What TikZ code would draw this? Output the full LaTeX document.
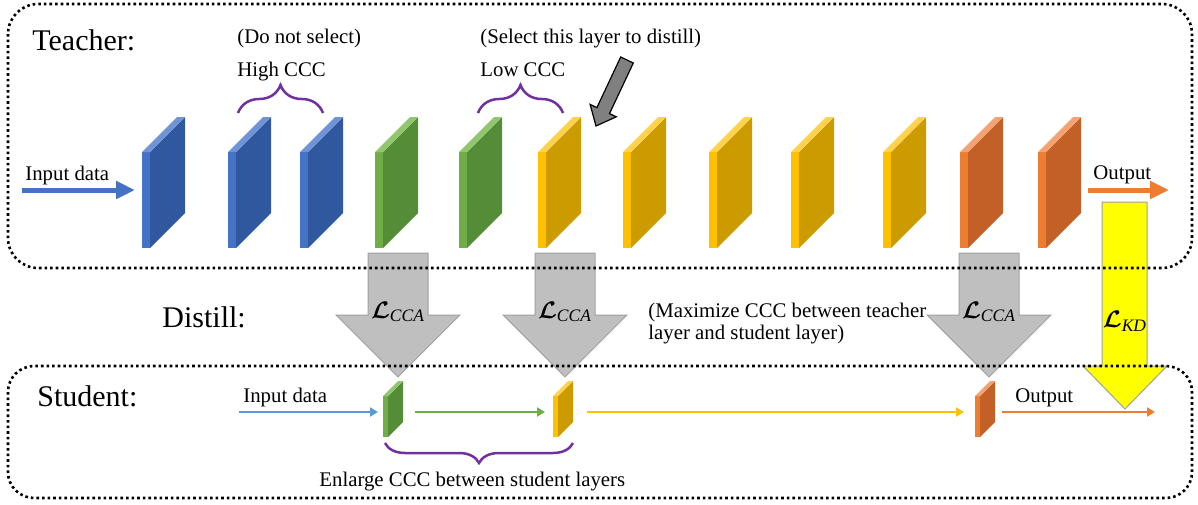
\documentclass[tikz,border=0pt]{standalone}
\usepackage{xcolor}
\usepackage{amsmath}
\usepackage{fontspec}
\setmainfont{Liberation Serif}
\usepackage{tikz}
\usetikzlibrary{arrows.meta,decorations.pathreplacing}

\definecolor{blufront}{HTML}{4472C4}
\definecolor{bluside}{HTML}{30589F}
\definecolor{blutop}{HTML}{6E93D6}
\definecolor{grnfront}{HTML}{70AD47}
\definecolor{grnside}{HTML}{548C38}
\definecolor{grntop}{HTML}{92C66E}
\definecolor{ylwfront}{HTML}{FFC000}
\definecolor{ylwside}{HTML}{CC9B00}
\definecolor{ylwtop}{HTML}{FFD24D}
\definecolor{orgfront}{HTML}{ED7D31}
\definecolor{orgside}{HTML}{C26027}
\definecolor{orgtop}{HTML}{F4A272}
\definecolor{brc}{HTML}{7030A0}
\definecolor{lossgray}{HTML}{BFBFBF}
\definecolor{lossedge}{HTML}{A0A0A0}
\definecolor{kdyellow}{HTML}{FFFF00}
\definecolor{stublue}{HTML}{5B9BD5}

\tikzset{
	tlayer/.style={minimum width=4pt, minimum height=48pt, inner sep=0pt, outer sep=0pt, anchor=south west},
	slayer/.style={minimum width=2.5pt, minimum height=20.5pt, inner sep=0pt, outer sep=0pt, anchor=south west},
	txt/.style={font=\fontsize{10.4}{11}\selectfont, inner sep=0pt, anchor=base west},
	bigtxt/.style={font=\fontsize{15}{18}\selectfont, inner sep=0pt, anchor=base west},
	losslab/.style={font=\fontsize{12.5}{15}\selectfont, inner sep=0pt},
	tarrow/.style={line width=2.5pt, -{Triangle[length=9.5pt,width=8.5pt]}},
	sarrow/.style={line width=1pt, -{Triangle[length=4pt,width=4.5pt]}},
	brace/.style={brc, line width=1.25pt, decorate, decoration={brace, amplitude=#1}},
	selarrow/.style={fill=gray, draw=black, line width=0.6pt},
	ccaarrow/.style={fill=lossgray, draw=lossedge, line width=0.5pt},
	kdarrow/.style={fill=kdyellow, draw=lossedge, line width=0.5pt},
	box/.style={line width=1.3pt, dash pattern=on 1.3pt off 1.5pt, rounded corners=#1}
}

\begin{document}
\begin{tikzpicture}[x=0.5pt,y=-0.5pt]

			\useasboundingbox (0,0) rectangle (1198,504);

			\draw [selarrow] (633.3,63) -- (609.5,113.6) -- (616.3,116.8) -- (596,126) -- (590.1,104.4) -- (596.9,107.6) -- (620.7,57) -- cycle;

			\foreach \x/\col [count=\i] in {142/blu,228/blu,300/blu,375/grn,459/grn,538/ylw,623/ylw,709/ylw,791/ylw,883/ylw,960/org,1038/org} {
				\node [tlayer, fill=\col front] (t\i) at (\x,248) {};
				\fill [\col side] (t\i.north east) -- ++(35,-35) -- ++(0,96) -- (t\i.south east) -- cycle;
				\fill [\col top] (t\i.north west) -- ++(35,-35) -- ++(8,0) -- (t\i.north east) -- cycle;
			}

			\foreach \x/\col [count=\i] in {383/grn,553/ylw,975/org} {
				\node [slayer, fill=\col front] (s\i) at (\x,437) {};
				\fill [\col side] (s\i.north east) -- ++(15,-15) -- ++(0,41) -- (s\i.south east) -- cycle;
				\fill [\col top] (s\i.north west) -- ++(15,-15) -- ++(5,0) -- (s\i.north east) -- cycle;
			}

			\node [bigtxt] (teach) at (32,50) {Teacher:};
			\node [bigtxt] (dist) at (162,327) {Distill:};
			\node [bigtxt] (stud) at (37,406) {Student:};

			\node [txt] (nosel) at (237,43) {(Do not select)};
			\node [txt] (high) at (237,76) {High CCC};
			\node [txt] (sel) at (480,43) {(Select this layer to distill)};
			\node [txt] (low) at (480,76) {Low CCC};
			\draw [brace=14pt] (238,113) -- (323,113);
			\draw [brace=14pt] (478,113) -- (563,113);

			\coordinate (tin) at (22,190);
			\coordinate (tout) at (1169,190);
			\node [txt] (tinlab) at (25,180) {Input data};
			\node [txt] (toutlab) at (1093,179) {Output};
			\draw [tarrow, blufront, shorten >=3.5pt] (tin) -- (tin -| t1.west);
			\draw [tarrow, orgfront, shorten <=21pt] (t12.east |- tout) -- (tout);

			\foreach \x [count=\i] in {398,565,989} {
				\draw [ccaarrow] (\x-30,253) -- (\x+30,253) -- (\x+30,315) -- (\x+62,315) -- (\x,377) -- (\x-62,315) -- (\x-30,315) -- cycle;
				\node [losslab] (cca\i) at (\x,312) {$\boldsymbol{\mathcal{L}}_{\mathit{CCA}}$};
			}
			\draw [kdarrow] (1102,202) -- (1147,202) -- (1147,366) -- (1167,366) -- (1125,409) -- (1083,366) -- (1102,366) -- cycle;
			\node [losslab] (kd) at (1125,321) {$\boldsymbol{\mathcal{L}}_{\mathit{KD}}$};

			\node [txt, align=left] (maxccc) at (648,339) {(Maximize CCC between teacher\\layer and student layer)};

			\coordinate (sin) at (239,412);
			\coordinate (sout) at (1155,412);
			\node [txt] (sinlab) at (243,402) {Input data};
			\node [txt] (soutlab) at (1015,402) {Output};
			\draw [sarrow, stublue, shorten >=2.5pt] (sin) -- (sin -| s1.west);
			\draw [sarrow, grnfront, shorten <=13.5pt, shorten >=4pt] (s1.east |- sin) -- (s2.west |- sin);
			\draw [sarrow, ylwfront, shorten <=14.5pt, shorten >=5.5pt] (s2.east |- sin) -- (s3.west |- sin);
			\draw [sarrow, orgfront, shorten <=11pt] (s3.east |- sin) -- (sout);

			\draw [brace=10pt] (573,443) -- (385,443);
			\node [txt] (enl) at (319,486) {Enlarge CCC between student layers};

			\draw [box=15pt] (8,4) rectangle (1192,268);
			\draw [box=13pt] (8,366) rectangle (1192,498);
		\end{tikzpicture}
\end{document}
